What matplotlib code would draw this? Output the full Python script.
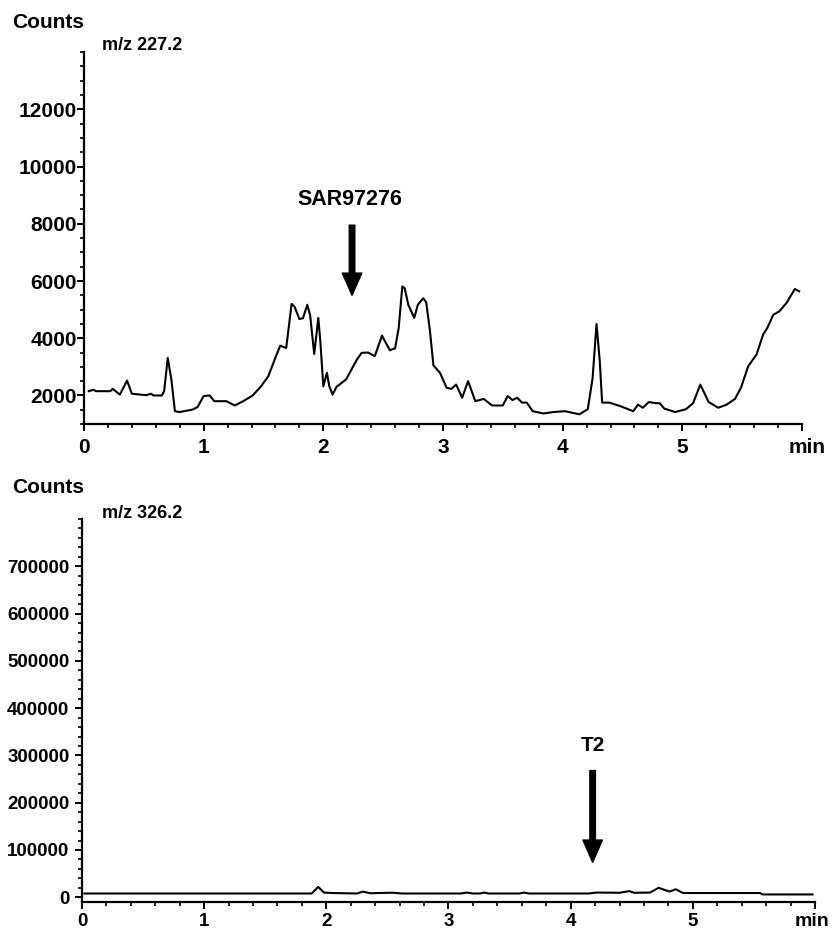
import matplotlib
matplotlib.use("Agg")
import matplotlib.pyplot as plt
from matplotlib.ticker import MultipleLocator, FixedLocator

plt.rcParams['font.family'] = ['Liberation Sans', 'DejaVu Sans']
plt.rcParams['font.weight'] = 'bold'

# m/z 227.2 trace (time in min, counts)
t_227 = [0.04, 0.08, 0.10, 0.22, 0.24, 0.30, 0.36, 0.40, 0.52, 0.56, 0.58, 0.65, 0.67,
         0.70, 0.73, 0.76, 0.80, 0.91, 0.95, 1.00, 1.05, 1.09, 1.19, 1.26, 1.33, 1.41,
         1.48, 1.54, 1.61, 1.64, 1.69, 1.735, 1.76, 1.80, 1.83, 1.866, 1.89, 1.924,
         1.958, 1.975, 2.00, 2.03, 2.05, 2.078, 2.11, 2.19, 2.28, 2.32, 2.375, 2.43,
         2.49, 2.556, 2.60, 2.63, 2.66, 2.68, 2.71, 2.76, 2.79, 2.835, 2.86, 2.89,
         2.92, 2.975, 3.03, 3.07, 3.11, 3.16, 3.21, 3.27, 3.34, 3.41, 3.50, 3.54,
         3.58, 3.62, 3.66, 3.70, 3.75, 3.84, 3.92, 4.02, 4.14, 4.21, 4.25, 4.283,
         4.31, 4.33, 4.39, 4.48, 4.59, 4.63, 4.67, 4.72, 4.78, 4.81, 4.85, 4.94,
         5.03, 5.09, 5.15, 5.22, 5.30, 5.37, 5.44, 5.49, 5.55, 5.62, 5.675, 5.71,
         5.76, 5.81, 5.87, 5.94, 5.976]
c_227 = [2150, 2200, 2150, 2150, 2230, 2030, 2520, 2060, 2010, 2060, 2000, 2000, 2150,
         3310, 2570, 1450, 1420, 1510, 1600, 1980, 2000, 1800, 1800, 1650, 1800, 2000,
         2320, 2670, 3430, 3740, 3660, 5200, 5100, 4670, 4700, 5170, 4800, 3450,
         4710, 3900, 2320, 2790, 2320, 2030, 2300, 2560, 3250, 3490, 3500, 3370,
         4090, 3580, 3650, 4360, 5810, 5750, 5170, 4710, 5170, 5400, 5250, 4300,
         3050, 2790, 2270, 2230, 2380, 1920, 2500, 1800, 1880, 1650, 1650, 1980,
         1840, 1920, 1750, 1750, 1450, 1370, 1420, 1450, 1340, 1520, 2600, 4500,
         3200, 1750, 1750, 1630, 1450, 1680, 1570, 1770, 1730, 1730, 1540, 1420,
         1520, 1730, 2380, 1770, 1570, 1680, 1880, 2270, 3020, 3430, 4130, 4360,
         4820, 4940, 5230, 5720, 5640]

# m/z 326.2 trace
t_326 = [0.02, 1.88, 1.934, 1.98, 2.05, 2.25, 2.30, 2.36, 2.50, 2.55, 2.62, 3.10,
         3.15, 3.20, 3.26, 3.29, 3.33, 3.58, 3.62, 3.66, 4.15, 4.21, 4.40, 4.48,
         4.52, 4.65, 4.72, 4.81, 4.86, 4.92, 5.55, 5.57, 5.98]
c_326 = [8000, 8000, 22000, 10000, 9000, 8000, 12000, 8500, 9500, 9500, 8000, 8000,
         10000, 8000, 8000, 10000, 8000, 8000, 10000, 8000, 8000, 10000, 9500, 13000,
         9500, 10000, 20000, 12000, 17000, 9000, 9000, 6000, 6000]

fig = plt.figure(figsize=(8.33, 9.30), dpi=100)
ax1 = fig.add_axes([0.1008, 0.544, 0.862, 0.400])
ax2 = fig.add_axes([0.0984, 0.0301, 0.880, 0.4118])

ax1.plot(t_227, c_227, color='black', lw=1.5, solid_joinstyle='round')
ax2.plot(t_326, c_326, color='black', lw=1.5, solid_joinstyle='round')

ax1.set_xlim(0, 6)
ax1.set_ylim(1000, 14000)
ax1.set_yticks([2000, 4000, 6000, 8000, 10000, 12000])
ax1.yaxis.set_minor_locator(MultipleLocator(500))

ax2.set_xlim(0, 6)
ax2.set_ylim(-10000, 800000)
ax2.set_yticks([0, 100000, 200000, 300000, 400000, 500000, 600000, 700000])
ax2.yaxis.set_minor_locator(FixedLocator(list(range(0, 800001, 20000))))

for ax, fs, xpad in ((ax1, 15, 5), (ax2, 13.5, 3)):
    ax.set_xticks([0, 1, 2, 3, 4, 5, 6])
    ax.set_xticklabels(['0', '1', '2', '3', '4', '5', ''])
    ax.xaxis.set_minor_locator(MultipleLocator(0.2))
    for s in ('top', 'right'):
        ax.spines[s].set_visible(False)
    for s in ('left', 'bottom'):
        ax.spines[s].set_linewidth(1.6)
    ax.tick_params(axis='both', which='major', direction='out', length=5, width=1.4,
                   labelsize=fs)
    ax.tick_params(axis='both', which='minor', direction='out', length=3, width=1.2)
    ax.tick_params(axis='x', which='major', pad=xpad)
    for lab in ax.get_xticklabels() + ax.get_yticklabels():
        lab.set_fontweight('bold')

ax1.tick_params(axis='y', which='major', pad=0)
ax2.tick_params(axis='y', which='major', pad=4)

ax1.annotate('min', xy=(1, 0), xycoords='axes fraction', xytext=(4, -17),
             textcoords='offset points', ha='center', va='center',
             fontsize=15, fontweight='bold')
ax2.annotate('min', xy=(1, 0), xycoords='axes fraction', xytext=(-2, -14),
             textcoords='offset points', ha='center', va='center',
             fontsize=14, fontweight='bold')

fig.text(12 / 833, 1 - 22 / 930, 'Counts', fontsize=15, fontweight='bold', va='center')
fig.text(102 / 833, 1 - 46 / 930, 'm/z 227.2', fontsize=13, fontweight='bold', va='center')
fig.text(12 / 833, 1 - 487 / 930, 'Counts', fontsize=15, fontweight='bold', va='center')
fig.text(102 / 833, 1 - 513 / 930, 'm/z 326.2', fontsize=13, fontweight='bold', va='center')

arrow = dict(facecolor='black', edgecolor='black', width=4, headwidth=14, headlength=16)
ax1.annotate('', xy=(2.24, 5500), xytext=(2.24, 7950), arrowprops=arrow)
ax1.text(2.22, 8850, 'SAR97276', ha='center', va='center', fontsize=15.5, fontweight='bold')

ax2.annotate('', xy=(4.18, 74000), xytext=(4.18, 268000), arrowprops=arrow)
ax2.text(4.18, 322000, 'T2', ha='center', va='center', fontsize=15, fontweight='bold')

fig.savefig('out.png', dpi=100)
